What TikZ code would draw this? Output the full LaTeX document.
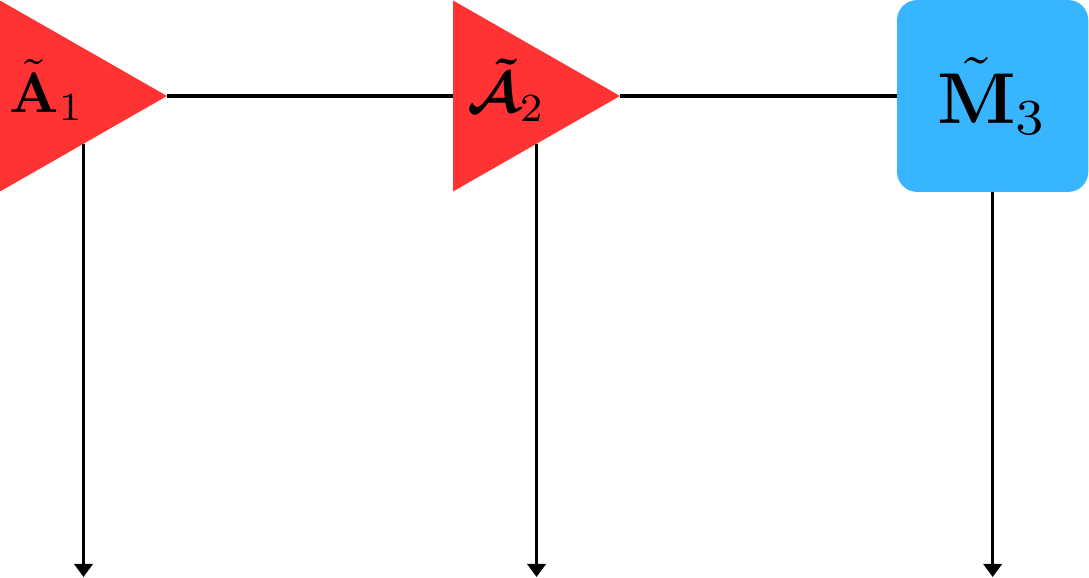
\documentclass[tikz,border=0pt]{standalone}
\usepackage{amsmath}
\usepackage{graphicx}
\definecolor{triRed}{HTML}{FF3333}
\definecolor{boxBlue}{HTML}{38B5FF}
\usetikzlibrary{arrows.meta,positioning,shapes.geometric,calc}
\tikzset{>={Triangle[length=2.3mm,width=3.2mm]},
  tri/.style={isosceles triangle,isosceles triangle stretches,fill=triRed,
    minimum width=33.56mm,minimum height=29.35mm,inner sep=0pt,outer sep=0pt},
  mbox/.style={rounded corners=3.5mm,fill=boxBlue,minimum width=33.6mm,
    minimum height=33.7mm,inner sep=0pt,outer sep=0pt},
  lbl/.style={inner sep=0pt},
  wire/.style={line width=1.8pt,black},
  flow/.style={->,line width=1.8pt,black}}
\begin{document}
\begin{tikzpicture}
  \node[tri,anchor=west] (a1) at (0,0) {};
  \node[tri,right=50.26mm of a1.apex] (a2) {};
  \node[mbox,right=48.68mm of a2.apex] (m3) {\scalebox{3.6}{$\tilde{\mathbf{M}}_3$}};
  \useasboundingbox (a1.west) ++(0,16.87mm) rectangle ++(191.37mm,-101.4mm);
  \node[lbl] (l1) at ($(a1.west)!0.28!(a1.apex)+(0,1mm)$) {\scalebox{2.85}{$\tilde{\mathbf{A}}_1$}};
  \node[lbl] (l2) at ($(a2.west)!0.32!(a2.apex)+(0,1mm)$) {\scalebox{2.85}{$\boldsymbol{\tilde{\mathcal{A}}}_2$}};
  \coordinate[below=84.53mm of a1.west] (bot);
  \coordinate (o1) at (a1.right side |- bot);
  \coordinate (o2) at (a2.right side |- bot);
  \coordinate (o3) at (m3.south |- bot);
  \draw[wire] (a1.apex) -- (a2.west);
  \draw[wire] (a2.apex) -- (m3.west);
  \draw[flow] (a1.right side) -- (o1);
  \draw[flow] (a2.right side) -- (o2);
  \draw[flow] (m3.south) -- (o3);
\end{tikzpicture}
\end{document}
